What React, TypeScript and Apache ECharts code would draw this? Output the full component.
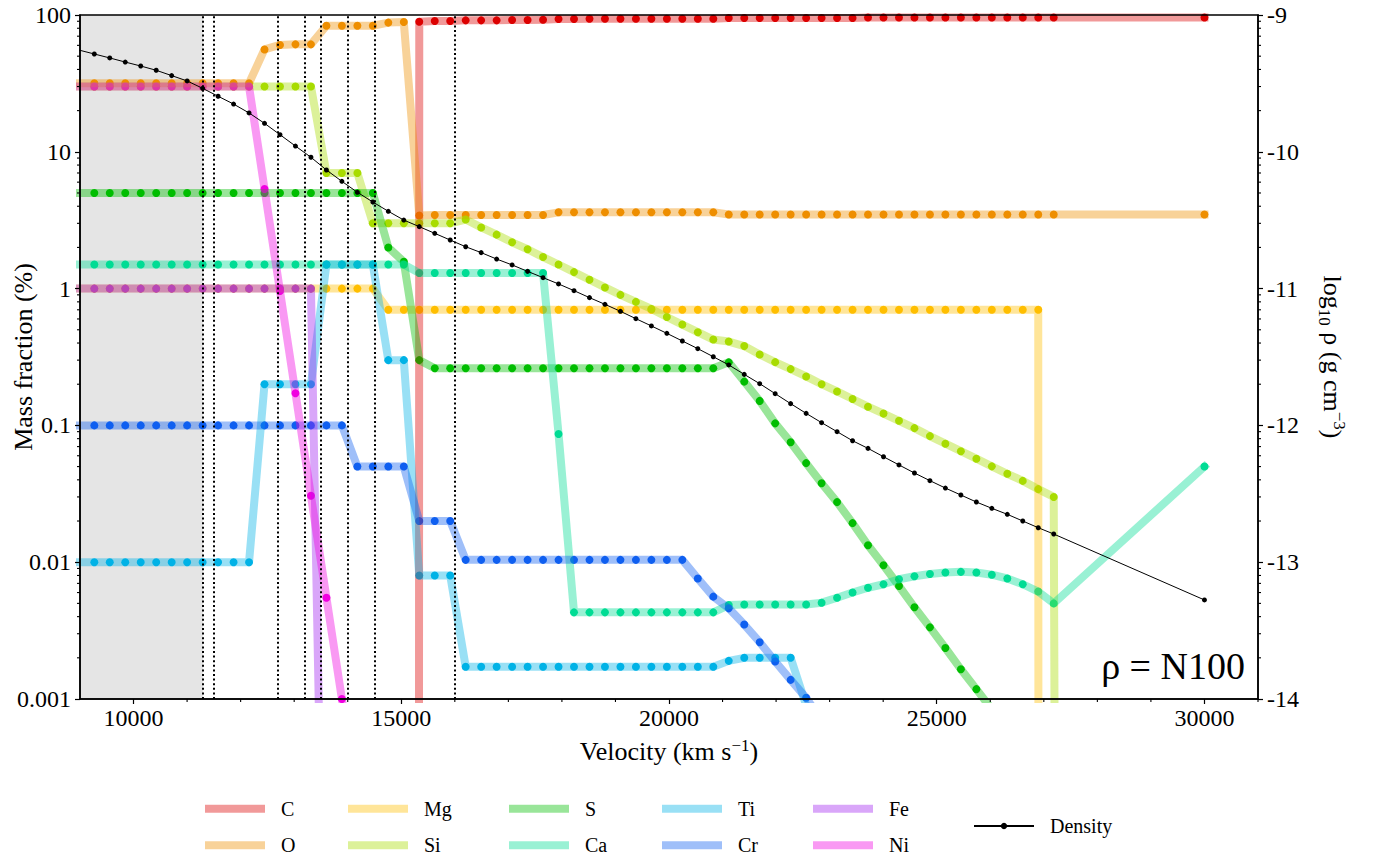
import React, { useEffect, useRef } from 'react';
import * as echarts from 'echarts';

const FONT = 'Liberation Serif';

// Velocity grid (km/s); first point lies just left of the visible range, last is the outer boundary
const VELOCITY = [8978, 9267, 9556, 9845, 10134, 10423, 10712, 11001, 11290, 11579, 11868, 12157, 12446, 12735, 13024, 13313, 13602, 13891, 14180, 14469, 14758, 15047, 15336, 15625, 15914, 16203, 16492, 16781, 17070, 17359, 17648, 17937, 18226, 18515, 18804, 19093, 19382, 19671, 19960, 20249, 20538, 20827, 21116, 21405, 21694, 21983, 22272, 22561, 22850, 23139, 23428, 23717, 24006, 24295, 24584, 24873, 25162, 25451, 25740, 26029, 26318, 26607, 26896, 27185, 30000];

// Mass fractions (%) — 0 means absent
const C_FRAC = [0, 0, 0, 0, 0, 0, 0, 0, 0, 0, 0, 0, 0, 0, 0, 0, 0, 0, 0, 0, 0, 0, 89.3, 90.4, 90.4, 91.4, 91.4, 91.4, 92, 92, 92.4, 93.5, 93.5, 94, 94, 94, 94, 94, 94, 94, 94, 94, 95, 95, 95, 95, 95, 95, 95, 95, 95, 96, 96, 96, 96, 96, 96, 96, 96, 96, 96, 96, 96, 96, 96];
const O_FRAC = [31.7, 31.7, 31.7, 31.7, 31.7, 31.7, 31.7, 31.7, 31.7, 31.7, 31.7, 31.7, 56, 60.4, 61, 61, 83.5, 83.5, 83.5, 83.5, 88, 89, 3.42, 3.45, 3.45, 3.45, 3.45, 3.45, 3.45, 3.45, 3.45, 3.61, 3.61, 3.61, 3.61, 3.61, 3.61, 3.61, 3.61, 3.61, 3.61, 3.61, 3.48, 3.48, 3.48, 3.48, 3.48, 3.48, 3.48, 3.48, 3.48, 3.48, 3.48, 3.48, 3.48, 3.48, 3.48, 3.48, 3.48, 3.48, 3.48, 3.48, 3.48, 3.48, 3.48];
const MG_FRAC = [1, 1, 1, 1, 1, 1, 1, 1, 1, 1, 1, 1, 1, 1, 1, 1, 1, 1, 1, 1, 0.7, 0.7, 0.7, 0.7, 0.7, 0.7, 0.7, 0.7, 0.7, 0.7, 0.7, 0.7, 0.7, 0.7, 0.7, 0.7, 0.7, 0.7, 0.7, 0.7, 0.7, 0.7, 0.7, 0.7, 0.7, 0.7, 0.7, 0.7, 0.7, 0.7, 0.7, 0.7, 0.7, 0.7, 0.7, 0.7, 0.7, 0.7, 0.7, 0.7, 0.7, 0.7, 0.7, 0, 0];
const SI_FRAC = [30, 30, 30, 30, 30, 30, 30, 30, 30, 30, 30, 30, 30, 30, 30, 30, 7, 7, 7, 3, 3, 3, 3, 3, 3, 3.2, 2.8, 2.48, 2.18, 1.94, 1.7, 1.5, 1.32, 1.16, 1.02, 0.9, 0.8, 0.71, 0.62, 0.546, 0.48, 0.424, 0.41, 0.38, 0.33, 0.29, 0.258, 0.228, 0.2, 0.177, 0.156, 0.137, 0.122, 0.108, 0.0955, 0.0835, 0.0735, 0.0648, 0.0571, 0.0502, 0.0443, 0.0393, 0.0342, 0.03, 0];
const S_FRAC = [5, 5, 5, 5, 5, 5, 5, 5, 5, 5, 5, 5, 5, 5, 5, 5, 5, 5, 5, 5, 2.0, 1.57, 0.3, 0.262, 0.262, 0.262, 0.262, 0.262, 0.262, 0.262, 0.262, 0.262, 0.262, 0.262, 0.262, 0.262, 0.262, 0.262, 0.262, 0.262, 0.262, 0.262, 0.289, 0.209, 0.151, 0.1035, 0.0752, 0.053, 0.0378, 0.0275, 0.0193, 0.0133, 0.0095, 0.0067, 0.00468, 0.00334, 0.00236, 0.00165, 0.00118, 0.00084, 0.0006, 0.00042, 0.0003, 0.00021, 0];
const CA_FRAC = [1.5, 1.5, 1.5, 1.5, 1.5, 1.5, 1.5, 1.5, 1.5, 1.5, 1.5, 1.5, 1.5, 1.5, 1.5, 1.5, 1.5, 1.5, 1.5, 1.5, 1.5, 1.5, 1.3, 1.3, 1.3, 1.3, 1.3, 1.3, 1.3, 1.3, 1.3, 0.0866, 0.0043, 0.0043, 0.0043, 0.0043, 0.0043, 0.0043, 0.0043, 0.0043, 0.0043, 0.0043, 0.00486, 0.0049, 0.0049, 0.0049, 0.0049, 0.0049, 0.00506, 0.0055, 0.006, 0.0065, 0.0069, 0.0075, 0.0079, 0.0082, 0.0084, 0.0085, 0.0084, 0.0081, 0.0076, 0.0069, 0.0061, 0.005, 0.05];
const TI_FRAC = [0.01, 0.01, 0.01, 0.01, 0.01, 0.01, 0.01, 0.01, 0.01, 0.01, 0.01, 0.01, 0.2, 0.2, 0.2, 0.2, 1.5, 1.5, 1.5, 1.5, 0.3, 0.3, 0.008, 0.008, 0.008, 0.00172, 0.00172, 0.00172, 0.00172, 0.00172, 0.00172, 0.00172, 0.00172, 0.00172, 0.00172, 0.00172, 0.00172, 0.00172, 0.00172, 0.00172, 0.00172, 0.00172, 0.0019, 0.002, 0.002, 0.002, 0.002, 0.0009, 0.0004, 0.00018, 0.00008, 0, 0, 0, 0, 0, 0, 0, 0, 0, 0, 0, 0, 0, 0];
const CR_FRAC = [0.1, 0.1, 0.1, 0.1, 0.1, 0.1, 0.1, 0.1, 0.1, 0.1, 0.1, 0.1, 0.1, 0.1, 0.1, 0.1, 0.1, 0.1, 0.05, 0.05, 0.05, 0.05, 0.02, 0.02, 0.02, 0.0104, 0.0104, 0.0104, 0.0104, 0.0104, 0.0104, 0.0104, 0.0104, 0.0104, 0.0104, 0.0104, 0.0104, 0.0104, 0.0104, 0.0104, 0.0076, 0.0056, 0.0046, 0.0035, 0.0026, 0.00188, 0.00138, 0.00102, 0.0007, 0.00045, 0.00028, 0, 0, 0, 0, 0, 0, 0, 0, 0, 0, 0, 0, 0, 0];
const FE_FRAC = [1, 1, 1, 1, 1, 1, 1, 1, 1, 1, 1, 1, 1, 1, 1, 1, 0.000001, 0, 0, 0, 0, 0, 0, 0, 0, 0, 0, 0, 0, 0, 0, 0, 0, 0, 0, 0, 0, 0, 0, 0, 0, 0, 0, 0, 0, 0, 0, 0, 0, 0, 0, 0, 0, 0, 0, 0, 0, 0, 0, 0, 0, 0, 0, 0, 0];
const NI_FRAC = [30, 30, 30, 30, 30, 30, 30, 30, 30, 30, 30, 30, 5.35, 0.96, 0.172, 0.0306, 0.0055, 0.001, 0.00018, 0.00003, 0, 0, 0, 0, 0, 0, 0, 0, 0, 0, 0, 0, 0, 0, 0, 0, 0, 0, 0, 0, 0, 0, 0, 0, 0, 0, 0, 0, 0, 0, 0, 0, 0, 0, 0, 0, 0, 0, 0, 0, 0, 0, 0, 0, 0];

// log10 density (g cm^-3)
const DENSITY_LOG = [-9.256, -9.285, -9.314, -9.344, -9.373, -9.404, -9.443, -9.482, -9.536, -9.594, -9.651, -9.716, -9.792, -9.875, -9.958, -10.04, -10.133, -10.216, -10.296, -10.367, -10.435, -10.499, -10.547, -10.596, -10.645, -10.694, -10.737, -10.784, -10.827, -10.874, -10.92, -10.966, -11.015, -11.066, -11.115, -11.166, -11.22, -11.273, -11.327, -11.383, -11.439, -11.498, -11.558, -11.627, -11.695, -11.768, -11.841, -11.912, -11.98, -12.046, -12.112, -12.168, -12.229, -12.289, -12.348, -12.404, -12.458, -12.509, -12.56, -12.606, -12.65, -12.699, -12.748, -12.794, -13.276];

const DOTTED_LINES = [11300, 11500, 12700, 13200, 13500, 14000, 14500, 16000];
const SHADED_RANGE = [9000, 11300];
const X_MIN = 9000;
const X_MAX = 31000;
const X_TICKS = [10000, 15000, 20000, 25000, 30000];
const X_MINOR_TICKS = [11000, 12000, 13000, 14000, 16000, 17000, 18000, 19000, 21000, 22000, 23000, 24000, 26000, 27000, 28000, 29000, 31000];
const FRAC_DECADES = [0.001, 0.01, 0.1, 1, 10];
const RHO_DECADES = [1e-14, 1e-13, 1e-12, 1e-11, 1e-10];
const MINOR_MULT = [2, 3, 4, 5, 6, 7, 8, 9];

const ELEMENTS = [
  { name: 'C', color: '#dc0000', values: C_FRAC },
  { name: 'O', color: '#ee8e00', values: O_FRAC },
  { name: 'Mg', color: '#ffbf00', values: MG_FRAC },
  { name: 'Si', color: '#a8dc00', values: SI_FRAC },
  { name: 'S', color: '#00bd00', values: S_FRAC },
  { name: 'Ca', color: '#00dc94', values: CA_FRAC },
  { name: 'Ti', color: '#00b2e6', values: TI_FRAC },
  { name: 'Cr', color: '#1060f0', values: CR_FRAC },
  { name: 'Fe', color: '#a020f0', values: FE_FRAC },
  { name: 'Ni', color: '#f000e0', values: NI_FRAC },
];

const BAND_ALPHA = 0.4;
const ZERO_FLOOR = 1e-300;

function rgba(hex: string, a: number) {
  const n = parseInt(hex.slice(1), 16);
  return `rgba(${n >> 16},${(n >> 8) & 255},${n & 255},${a})`;
}

function minorTicks(decades: number[]) {
  const out: number[] = [];
  decades.forEach((d) => MINOR_MULT.forEach((m) => out.push(m * d)));
  return out;
}

function tickSeries(data: number[][], yAxisIndex: number, kind: 'left' | 'right' | 'bottom') {
  return {
    type: 'custom',
    xAxisIndex: 0,
    yAxisIndex,
    silent: true,
    z: 10,
    clip: false,
    data,
    renderItem: (_p: any, api: any) => {
      const p = api.coord([api.value(0), api.value(1)]);
      let shape;
      if (kind === 'left') shape = { x1: p[0] - 3, y1: p[1], x2: p[0], y2: p[1] };
      else if (kind === 'right') shape = { x1: p[0], y1: p[1], x2: p[0] + 3, y2: p[1] };
      else shape = { x1: p[0], y1: p[1], x2: p[0], y2: p[1] + 3 };
      return { type: 'line', shape, style: { stroke: '#000', lineWidth: 1.1 } };
    },
  };
}

function buildOption() {
  const scatterSeries = ELEMENTS.map((el) => ({
    type: 'scatter',
    name: el.name,
    xAxisIndex: 0,
    yAxisIndex: 0,
    z: 2,
    silent: true,
    clip: true,
    symbol: 'circle',
    symbolSize: 8,
    itemStyle: { color: el.color, opacity: 1 },
    emphasis: { disabled: true },
    data: VELOCITY.map((v, k) => [v, el.values[k]]).filter(
      ([v, y]) => y > 0 && v >= X_MIN && v <= X_MAX
    ),
  }));

  const bandSeries = ELEMENTS.map((el) => ({
    type: 'line',
    name: el.name,
    xAxisIndex: 0,
    yAxisIndex: 0,
    z: 3,
    silent: true,
    clip: true,
    symbol: 'none',
    showSymbol: false,
    itemStyle: { color: el.color },
    lineStyle: { color: el.color, width: 8, opacity: BAND_ALPHA, cap: 'square', join: 'round' },
    emphasis: { disabled: true },
    data: VELOCITY.map((v, k) => [v, el.values[k] > 0 ? el.values[k] : ZERO_FLOOR]),
  }));

  const decor = {
    type: 'line',
    name: '__decor',
    xAxisIndex: 0,
    yAxisIndex: 0,
    silent: true,
    data: [],
    markArea: {
      silent: true,
      z: 1,
      itemStyle: { color: '#e5e5e5' },
      data: [[{ xAxis: SHADED_RANGE[0] }, { xAxis: SHADED_RANGE[1] }]],
    },
    markLine: {
      silent: true,
      z: 4,
      symbol: ['none', 'none'],
      label: { show: false },
      lineStyle: { color: '#000', width: 2, type: [2, 2.6], opacity: 1 },
      emphasis: { disabled: true },
      data: DOTTED_LINES.map((v) => ({ xAxis: v })),
    },
  };

  const density = {
    type: 'line',
    name: 'Density',
    xAxisIndex: 0,
    yAxisIndex: 1,
    z: 6,
    silent: true,
    clip: true,
    symbol: 'circle',
    symbolSize: 5,
    showSymbol: true,
    showAllSymbol: true,
    itemStyle: { color: '#000' },
    lineStyle: { color: '#000', width: 1 },
    emphasis: { disabled: true },
    data: VELOCITY.map((v, k) => [v, Math.pow(10, DENSITY_LOG[k])]),
  };

  const legendBase = {
    orient: 'vertical',
    itemWidth: 60,
    itemHeight: 8,
    itemGap: 16.6,
    padding: 0,
    selectedMode: false,
    formatter: (name: string) => `{t|${name}}`,
    textStyle: {
      color: '#000',
      fontSize: 20,
      fontFamily: FONT,
      lineHeight: 20,
      rich: { t: { padding: [0, 0, 0, 11], fontSize: 20, fontFamily: FONT, color: '#000', lineHeight: 20 } },
    },
  };
  const LEG_COLS = [205, 348, 509, 662, 813];
  const legends: any[] = LEG_COLS.map((left, c) => ({
    ...legendBase,
    left,
    top: 798.7,
    data: [ELEMENTS[2 * c], ELEMENTS[2 * c + 1]].map((el) => ({
      name: el.name,
      icon: 'rect',
      itemStyle: { color: rgba(el.color, BAND_ALPHA), borderWidth: 0 },
    })),
  }));
  legends.push({
    ...legendBase,
    left: 973,
    top: 816,
    data: [{ name: 'Density' }],
  });

  const axisLineStyle = { color: '#000', width: 1.5 };
  const tickStyle = { color: '#000', width: 1.2 };
  const labelStyle = { color: '#000', fontSize: 24, fontFamily: FONT };

  return {
    animation: false,
    backgroundColor: '#fff',
    textStyle: { fontFamily: FONT },
    grid: {
      left: 80,
      top: 15,
      width: 1178,
      height: 684,
      containLabel: false,
      outerBoundsMode: 'none',
      show: true,
      z: 10,
      backgroundColor: 'transparent',
      borderColor: '#000',
      borderWidth: 1.5,
    },
    legend: legends,
    xAxis: {
      type: 'value',
      min: X_MIN,
      max: X_MAX,
      z: 10,
      axisLine: { show: true, lineStyle: axisLineStyle },
      axisTick: { show: true, length: 5, lineStyle: tickStyle, customValues: X_TICKS },
      axisLabel: {
        ...labelStyle,
        margin: 7,
        customValues: X_TICKS,
        formatter: (v: number) => String(Math.round(v)),
      },
      splitLine: { show: false },
      name: '{a|Velocity (km s}{b|\u22121}{a|)}',
      nameLocation: 'middle',
      nameGap: 38,
      nameMoveOverlap: false,
      nameTextStyle: {
        fontFamily: FONT,
        rich: {
          a: { fontSize: 26, fontFamily: FONT, color: '#000', lineHeight: 28 },
          b: { fontSize: 17, fontFamily: FONT, color: '#000', lineHeight: 17, verticalAlign: 'top' },
        },
      },
    },
    yAxis: [
      {
        type: 'log',
        logBase: 10,
        min: 0.001,
        max: 100,
        position: 'left',
        z: 10,
        axisLine: { show: true, lineStyle: axisLineStyle },
        axisTick: { show: true, length: 5, lineStyle: tickStyle },
        axisLabel: {
          ...labelStyle,
          margin: 9,
          formatter: (v: number) => String(Number(v.toPrecision(3))),
        },
        splitLine: { show: false },
        name: 'Mass fraction (%)',
        nameLocation: 'middle',
        nameRotate: 90,
        nameGap: 44,
        nameMoveOverlap: false,
        nameTextStyle: { fontSize: 26, fontFamily: FONT, color: '#000' },
      },
      {
        type: 'log',
        logBase: 10,
        min: 1e-14,
        max: 1e-9,
        position: 'right',
        z: 10,
        axisLine: { show: true, lineStyle: axisLineStyle },
        axisTick: { show: true, length: 5, lineStyle: tickStyle },
        axisLabel: {
          ...labelStyle,
          margin: 9,
          formatter: (v: number) => String(Math.round(Math.log10(v))),
        },
        splitLine: { show: false },
        name: '{a|log}{s|10}{a| \u03c1 (g cm}{p|\u22123}{a|)}',
        nameLocation: 'middle',
        nameRotate: -90,
        nameGap: 58,
        nameMoveOverlap: false,
        nameTextStyle: {
          fontFamily: FONT,
          rich: {
            a: { fontSize: 26, fontFamily: FONT, color: '#000', lineHeight: 32 },
            s: { fontSize: 17, fontFamily: FONT, color: '#000', lineHeight: 17, verticalAlign: 'bottom' },
            p: { fontSize: 17, fontFamily: FONT, color: '#000', lineHeight: 17, verticalAlign: 'top' },
          },
        },
      },
    ],
    graphic: [
      {
        type: 'text',
        x: 1245,
        y: 666,
        z: 20,
        silent: true,
        style: {
          text: '\u03c1 = N100',
          fontSize: 38,
          fontFamily: FONT,
          fill: '#000',
          align: 'right',
          verticalAlign: 'middle',
        },
      },
    ],
    series: [
      decor,
      ...scatterSeries,
      ...bandSeries,
      density,
      tickSeries(minorTicks(FRAC_DECADES).map((v) => [X_MIN, v]), 0, 'left'),
      tickSeries(minorTicks(RHO_DECADES).map((v) => [X_MAX, v]), 1, 'right'),
      tickSeries(X_MINOR_TICKS.map((v) => [v, 0.001]), 0, 'bottom'),
    ],
  };
}

export default function App() {
  const ref = useRef<HTMLDivElement>(null);
  useEffect(() => {
    if (!ref.current) return;
    const chart = echarts.init(ref.current, null, { renderer: 'svg' });
    chart.setOption(buildOption() as any);
    return () => chart.dispose();
  }, []);
  return (
    <div
      ref={ref}
      style={{ position: 'fixed', left: 0, top: 0, width: 1373, height: 861, background: '#fff' }}
    />
  );
}
